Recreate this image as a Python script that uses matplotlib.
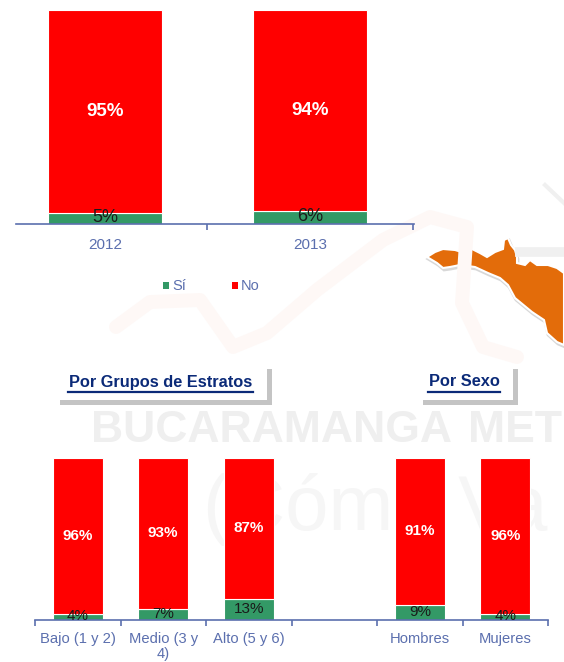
import matplotlib

matplotlib.use("Agg")
import matplotlib.pyplot as plt
from matplotlib.patches import Polygon, Rectangle
from matplotlib.ticker import FixedLocator, NullFormatter

plt.rcParams["font.family"] = ["Liberation Sans", "DejaVu Sans"]

W, H = 564, 662
GREEN = "#339966"
RED = "#ff0000"
BLUE = "#5b6fae"
NAVY = "#0b2a78"

years = ["2012", "2013"]
si_year = [5, 6]
no_year = [95, 94]

groups = ["Bajo (1 y 2)", "Medio (3 y\n4)", "Alto (5 y 6)", "", "Hombres", "Mujeres"]
si_group = [4, 7, 13, None, 9, 4]
no_group = [96, 93, 87, None, 91, 96]

# outline of the map in the background, in pixels
map_x = [427, 435, 443, 455, 465, 472, 480, 487, 495, 503, 504, 508, 511, 515, 517, 517,
         525, 530, 537, 548, 557, 564, 564, 557, 547, 544, 532, 515, 508, 500, 488, 475,
         460, 450, 443, 437]
map_y = [257, 252, 249, 250, 253, 249, 253, 257, 252, 249, 240, 238, 245, 250, 257, 263,
         265, 260, 265, 265, 268, 273, 345, 342, 333, 320, 312, 298, 285, 278, 273, 267,
         265, 267, 268, 263]

# faint swoosh of the logo behind the charts, in pixels
swoosh_x = [116, 150, 200, 233, 267, 317, 383, 430, 467, 462, 483, 517]
swoosh_y = [327, 302, 300, 347, 333, 290, 240, 217, 227, 303, 347, 357]


def px_axes(fig, left, top, right, bottom):
    return fig.add_axes([left / W, 1 - bottom / H, (right - left) / W, (bottom - top) / H])


def stacked(ax, labels, si, no, width, xlim, edges, tick_size, tick_pad, top_size, si_size):
    xs = range(len(labels))
    for x, s, n in zip(xs, si, no):
        if s is None:
            continue
        ax.bar(x, s, width=width, color=GREEN, edgecolor="white", linewidth=0.8)
        ax.bar(x, n, width=width, bottom=s, color=RED, edgecolor="white", linewidth=0.8)
        ax.text(x, s / 2 + 0.3, f"{s}%", ha="center", va="center",
                fontsize=si_size, color="#1a1a1a")
        ax.text(x, s + n / 2, f"{n}%", ha="center", va="center",
                fontsize=top_size, color="white", fontweight="bold")
    ax.set_xlim(*xlim)
    ax.set_ylim(0, 100)
    ax.patch.set_alpha(0)
    for side in ("top", "left", "right"):
        ax.spines[side].set_visible(False)
    ax.spines["bottom"].set_color(BLUE)
    ax.spines["bottom"].set_linewidth(1.2)
    ax.set_yticks([])
    ax.xaxis.set_major_locator(FixedLocator(edges))
    ax.xaxis.set_major_formatter(NullFormatter())
    ax.tick_params(axis="x", which="major", length=4.5, width=1.2, color=BLUE)
    for x, lab in zip(xs, labels):
        for i, line in enumerate(lab.split("\n")):
            ax.annotate(line, (x, 0), xytext=(0, -tick_pad - 11 * i), textcoords="offset points",
                        ha="center", va="baseline", fontsize=tick_size, color=BLUE,
                        annotation_clip=False)


def heading(bg, text, x0, x1, shadow_left, shadow_right):
    bg.add_patch(Rectangle((shadow_right - 5, 369), 5, 36, color="#c4c4c4", lw=0))
    bg.add_patch(Rectangle((shadow_left, 400), shadow_right - shadow_left, 5, color="#c4c4c4", lw=0))
    bg.text((x0 + x1) / 2, 382, text, ha="center", va="center", fontsize=11.8,
            fontweight="bold", color=NAVY)
    bg.plot([x0, x1], [392, 392], color=NAVY, lw=1.6)


fig = plt.figure(figsize=(W / 100, H / 100), dpi=100)

bg = fig.add_axes([0, 0, 1, 1])
bg.set_xlim(0, W)
bg.set_ylim(H, 0)
bg.axis("off")

# faint watermark
bg.text(91, 431, "BUCARAMANGA", fontsize=32, fontweight="bold", color="#efefef",
        ha="left", va="center")
bg.text(468, 431, "MET", fontsize=32, fontweight="bold", color="#efefef",
        ha="left", va="center")
bg.text(203, 510, "(Cómo Va", fontsize=56, color="#f6f6f6", ha="left", va="center")
bg.plot(swoosh_x, swoosh_y, color="#fef8f6", lw=10, solid_capstyle="round", solid_joinstyle="round")
bg.plot([545, 564], [185, 203], color="#f0f0f0", lw=3)
bg.plot([520, 564], [252, 252], color="#f0f0f0", lw=7)

map_pts = list(zip(map_x, map_y))
bg.add_patch(Polygon([(x + 1, y + 2) for x, y in map_pts], closed=True, facecolor="#d8d8d8",
                     edgecolor="#d8d8d8", linewidth=2))
bg.add_patch(Polygon(map_pts, closed=True, facecolor="#e36c0a", edgecolor="white", linewidth=1.5))

heading(bg, "Por Grupos de Estratos", 68, 253, 60, 272)
heading(bg, "Por Sexo", 428, 500, 423, 518)

# legend
bg.add_patch(Rectangle((163, 282), 6, 7, color=GREEN, lw=0))
bg.text(172, 285.5, "Sí", fontsize=10.5, color=BLUE, va="center")
bg.add_patch(Rectangle((232, 282), 6, 7, color=RED, lw=0))
bg.text(241, 285.5, "No", fontsize=10.5, color=BLUE, va="center")

# the left end of the upper chart is cut off in the reference, so no tick there
ax_top = px_axes(fig, 16, 9.5, 414, 224)
stacked(ax_top, years, si_year, no_year, 0.56, (-0.434, 1.507), [0.4976, 1.5], 11, 18, 13.5, 13)

ax_bot = px_axes(fig, 35, 457.5, 548, 620)
stacked(ax_bot, groups, si_group, no_group, 0.585, (-0.5, 5.5), [i - 0.5 for i in range(7)],
        10.6, 16.5, 11, 11)

fig.savefig("out.png", dpi=100)
